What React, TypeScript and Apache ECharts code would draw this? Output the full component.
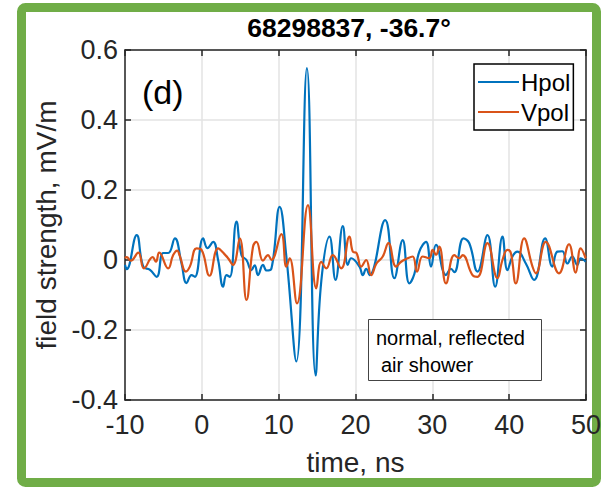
import React, { useEffect, useRef } from "react";
import * as echarts from "echarts";

const hpolTime = [
  -10, -9.78, -8.48, -7.62, -6.75, -5.88, -5.03, -4.38, -3.51, -2.64, -1.99, -1.34, -0.91,
  0.17, 0.74, 1.47, 2.12, 2.77, 3.21, 3.64, 4.51, 5.16, 5.81, 6.45, 6.88, 7.31, 7.96, 8.44, 9.05,
  10.13, 11.0, 12.3, 13.68, 14.81, 15.55, 16.62, 17.4, 18.35, 19.0, 19.44,
  20.52, 20.95, 21.39, 21.82, 23.86, 25.06, 26.14, 27.01, 27.66, 28.31, 29.18, 29.83,
  30.48, 31.78, 32.43, 32.86, 34.06, 34.81, 35.88, 37.18, 38.18, 39.13, 39.78,
  40.43, 41.08, 42.17, 43.25, 44.68, 45.62, 46.27, 46.92, 47.57, 48.22, 48.87, 49.31, 49.96,
];
const hpolValue = [
  -0.014, -0.026, 0.071, -0.019, -0.028, -0.048, 0.02, 0.02, 0.062, -0.01, -0.066, -0.043, -0.048,
  0.062, 0.034, 0.052, 0.0, -0.076, -0.043, -0.048, 0.11, 0.014, 0.0, -0.029, -0.015, -0.043, -0.014, -0.03, -0.025,
  0.152, 0.01, -0.29, 0.548, -0.33, -0.06, 0.067, -0.057, 0.097, -0.014, 0.005,
  -0.019, -0.043, -0.025, -0.043, 0.114, -0.052, 0.057, -0.067, -0.04, 0.024, 0.052, -0.019,
  0.043, -0.043, -0.025, -0.035, 0.062, 0.048, -0.033, 0.071, -0.076, 0.067, -0.029,
  0.01, 0.024, -0.01, -0.057, 0.062, -0.019, 0.024, 0.025, -0.01, 0.01, -0.014, 0.005, -0.005,
];

const vpolTime = [
  -10, -9.78, -9.26, -8.27, -7.53, -6.4, -5.97, -5.55, -4.38, -3.73, -3.21, -2.86, -2.08, -1.56,
  -0.69, -0.04, 1.0, 2.12, 2.86, 3.42, 4.06, 4.94, 5.81, 6.66, 7.1, 7.96, 8.61, 9.05,
  10.35, 11.0, 11.43, 12.38, 13.81, 14.9, 15.55, 16.19, 17.05, 18.14, 19.22, 19.65,
  20.13, 20.74, 21.39, 22.04, 22.73, 23.55, 24.29, 25.29, 25.94, 26.79, 27.44, 28.01, 28.74, 29.61,
  30.04, 30.48, 30.91, 31.78, 32.86, 33.51, 33.94, 35.23, 35.88, 37.18, 38.48, 39.13, 39.78,
  40.22, 40.87, 41.95, 43.04, 43.47, 44.77, 46.49, 47.79, 48.66, 49.31, 49.96,
];
const vpolValue = [
  0.005, 0.008, -0.002, 0.021, -0.024, 0.008, -0.005, 0.021, -0.024, 0.014, 0.027, 0.011, -0.033, -0.019,
  0.033, 0.029, -0.045, 0.033, 0.019, 0.005, -0.014, 0.062, -0.114, 0.038, 0.052, -0.002, 0.014, 0.0,
  0.074, -0.019, 0.005, -0.124, 0.157, -0.081, -0.005, -0.024, 0.014, -0.024, 0.067, 0.024,
  0.02, -0.019, 0.0, -0.043, -0.01, 0.01, 0.048, -0.019, -0.005, 0.005, 0.01, -0.033, 0.01, 0.005,
  0.029, 0.015, 0.038, -0.067, 0.014, 0.005, 0.014, -0.043, -0.048, 0.048, -0.052, 0.0, 0.029,
  0.02, -0.067, 0.062, -0.019, -0.038, 0.052, -0.038, 0.045, -0.036, 0.033, 0.005,
];

const seriesNames = ["Hpol", "Vpol"];
const seriesColors = ["#0072BD", "#D95319"];
const xRange = [-10, 50];
const xStep = 10;
const yRange = [-0.4, 0.6];
const yStep = 0.2;
const titleText = "68298837, -36.7°";
const panelLabel = "(d)";
const noteLines = ["normal, reflected", "air shower"];
const xName = "time, ns";
const yName = "field strength, mV/m";

const FONT = "'Liberation Sans', Arial, Helvetica, sans-serif";
const INK = "#262626";

function zip(t: number[], v: number[]) {
  return t.map((x, i) => [x, v[i]]);
}

export default function App() {
  const ref = useRef<HTMLDivElement>(null);
  useEffect(() => {
    const chart = echarts.init(ref.current!, null, { renderer: "svg" });
    const axisLine = { show: true, onZero: false, lineStyle: { color: INK, width: 1.5 } };
    const tick = { show: true, inside: true, length: 6, lineStyle: { color: INK, width: 1.5 } };
    chart.setOption({
      animation: false,
      backgroundColor: "#ffffff",
      textStyle: { fontFamily: FONT },
      grid: { left: 125, top: 50, width: 462, height: 350, containLabel: false },
      legend: {
        data: seriesNames.map((n) => ({ name: n, icon: "rect" })),
        orient: "vertical",
        left: 474,
        top: 64,
        padding: [6, 3, 6, 4],
        itemGap: 6,
        itemWidth: 41,
        itemHeight: 2.2,
        backgroundColor: "#ffffff",
        borderColor: "#000000",
        borderWidth: 1.5,
        borderRadius: 0,
        textStyle: { fontSize: 24, color: "#000000", fontFamily: FONT, padding: [0, 0, 0, -3] },
      },
      xAxis: [
        {
          type: "value",
          min: xRange[0],
          max: xRange[1],
          interval: xStep,
          axisLine,
          axisTick: tick,
          axisLabel: { fontSize: 27, color: INK, margin: 11, fontFamily: FONT },
          splitLine: { show: true, lineStyle: { color: "#e3e3e3", width: 1.5 } },
          name: xName,
          nameLocation: "middle",
          nameGap: 48,
          nameTextStyle: { fontSize: 28, color: INK, fontFamily: FONT },
        },
        {
          type: "value",
          position: "top",
          min: xRange[0],
          max: xRange[1],
          interval: xStep,
          axisLine,
          axisTick: tick,
          axisLabel: { show: false },
          splitLine: { show: false },
        },
      ],
      yAxis: [
        {
          type: "value",
          min: yRange[0],
          max: yRange[1],
          interval: yStep,
          axisLine,
          axisTick: tick,
          axisLabel: {
            fontSize: 27,
            color: INK,
            margin: 7,
            fontFamily: FONT,
            formatter: (v: number) => String(Math.round(v * 10) / 10),
          },
          splitLine: { show: true, lineStyle: { color: "#e3e3e3", width: 1.5 } },
          name: yName,
          nameLocation: "middle",
          nameGap: 63,
          nameTextStyle: { fontSize: 28, color: INK, fontFamily: FONT },
        },
        {
          type: "value",
          position: "right",
          min: yRange[0],
          max: yRange[1],
          interval: yStep,
          axisLine,
          axisTick: tick,
          axisLabel: { show: false },
          splitLine: { show: false },
        },
      ],
      series: [
        {
          name: seriesNames[0],
          type: "line",
          data: zip(hpolTime, hpolValue),
          symbol: "none",
          smooth: 0.45,
          color: seriesColors[0],
          lineStyle: { width: 2.2, color: seriesColors[0] },
          z: 2,
        },
        {
          name: seriesNames[1],
          type: "line",
          data: zip(vpolTime, vpolValue),
          symbol: "none",
          smooth: 0.45,
          color: seriesColors[1],
          lineStyle: { width: 2.2, color: seriesColors[1] },
          z: 3,
        },
      ],
      graphic: [
        {
          type: "rect",
          silent: true,
          z: -10,
          shape: { x: 21.5, y: 7.5, width: 575, height: 475, r: 4 },
          style: { fill: "none", stroke: "#70AD47", lineWidth: 9 },
        },
        {
          type: "text",
          silent: true,
          x: 349,
          y: 28,
          style: {
            text: titleText,
            fontSize: 26.5,
            fontWeight: "bold",
            fontFamily: FONT,
            fill: "#000000",
            align: "center",
            verticalAlign: "middle",
          },
        },
        {
          type: "text",
          silent: true,
          x: 142,
          y: 92,
          style: {
            text: panelLabel,
            fontSize: 34,
            fontFamily: FONT,
            fill: "#000000",
            align: "left",
            verticalAlign: "middle",
          },
        },
        {
          type: "rect",
          silent: true,
          z: 10,
          shape: { x: 368.5, y: 319.5, width: 173, height: 61 },
          style: { fill: "#ffffff", stroke: "#444444", lineWidth: 1 },
        },
        {
          type: "text",
          silent: true,
          z: 11,
          x: 376,
          y: 338,
          style: {
            text: noteLines[0],
            fontSize: 20,
            fontFamily: FONT,
            fill: "#000000",
            align: "left",
            verticalAlign: "middle",
          },
        },
        {
          type: "text",
          silent: true,
          z: 11,
          x: 381,
          y: 365,
          style: {
            text: noteLines[1],
            fontSize: 20,
            fontFamily: FONT,
            fill: "#000000",
            align: "left",
            verticalAlign: "middle",
          },
        },
      ],
    });
    return () => chart.dispose();
  }, []);
  return (
    <div
      ref={ref}
      style={{ position: "absolute", left: 0, top: 0, width: 604, height: 490, background: "#ffffff" }}
    />
  );
}
